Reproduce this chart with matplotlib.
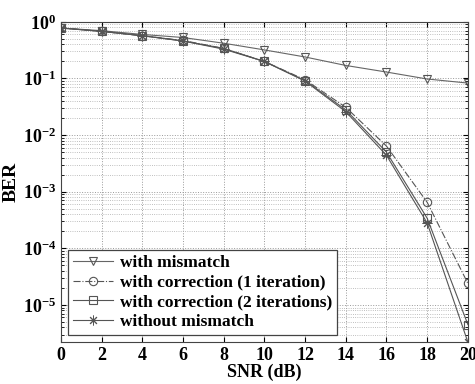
import numpy as np
import matplotlib.pyplot as plt

snr = [0, 2, 4, 6, 8, 10, 12, 14, 16, 18, 20]
ber_mismatch = [0.78, 0.70, 0.60, 0.53, 0.42, 0.32, 0.24, 0.17, 0.13, 0.098, 0.083]
ber_corr1 = [0.78, 0.68, 0.57, 0.47, 0.34, 0.20, 0.095, 0.031, 0.0064, 0.00065, 2.4e-5]
ber_corr2 = [0.78, 0.68, 0.57, 0.46, 0.34, 0.20, 0.092, 0.028, 0.0050, 0.00034, 4.5e-6]
ber_ideal = [0.78, 0.68, 0.57, 0.46, 0.33, 0.20, 0.090, 0.026, 0.0044, 0.00028, 2.2e-6]

plt.rcParams['font.family'] = ['Liberation Serif', 'DejaVu Serif']
plt.rcParams['font.weight'] = 'bold'

fig = plt.figure(figsize=(4.75, 3.84), dpi=100)
ax = fig.add_axes([0.128, 0.109, 0.857, 0.834])

c = '#555555'
ax.semilogy(snr, ber_mismatch, color='#666666', lw=0.8, marker='v', ms=6, mfc='none', mec=c,
            mew=0.8, label='with mismatch')
ax.semilogy(snr, ber_corr1, color=c, lw=0.8, ls='-.', marker='o', ms=6, mfc='none', mec=c,
            mew=0.8, label='with correction (1 iteration)')
ax.semilogy(snr, ber_corr2, color=c, lw=0.8, marker='s', ms=6, mfc='none', mec=c,
            mew=0.8, label='with correction (2 iterations)')
ax.semilogy(snr, ber_ideal, color=c, lw=0.8, marker=(8, 2, 0), ms=7, mfc='none', mec=c,
            mew=0.7, label='without mismatch')

ax.set_xlim(0, 20)
ax.set_ylim(2.2e-6, 1)
ax.set_xticks(range(0, 21, 2))
ax.set_yticks([1e-5, 1e-4, 1e-3, 1e-2, 1e-1, 1])
ax.grid(True, which='major', ls=':', color='#999999', lw=0.7)
ax.grid(True, which='minor', axis='y', ls=':', color='#aaaaaa', lw=0.6)
ax.tick_params(axis='both', which='both', direction='in', labelsize=13, top=True, right=True)
for lab in ax.get_xticklabels() + ax.get_yticklabels():
    lab.set_fontweight('bold')
for s in ax.spines.values():
    s.set_color('#444444')

ax.set_xlabel('SNR (dB)', fontsize=13, fontweight='bold', labelpad=0)
ax.set_ylabel('BER', fontsize=14, fontweight='bold', labelpad=2)

leg = ax.legend(loc='lower left', prop={'weight': 'bold', 'size': 12.5},
                fancybox=False, edgecolor='#444444', framealpha=1, handlelength=2.3,
                borderaxespad=0.4, labelspacing=0.2, borderpad=0.3, handletextpad=0.4)
leg.get_frame().set_linewidth(0.9)

fig.savefig('out.png', dpi=100)
